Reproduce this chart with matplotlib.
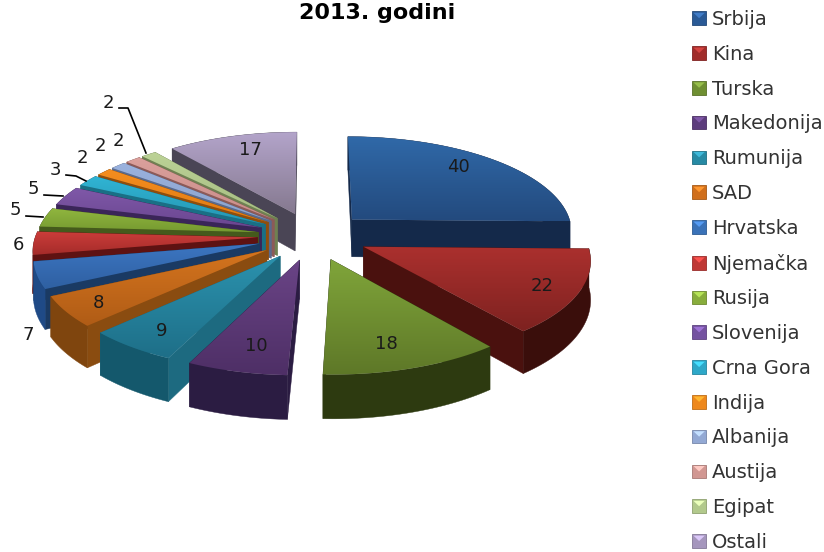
import numpy as np
import matplotlib
matplotlib.use("Agg")
import matplotlib.pyplot as plt
from matplotlib.colors import to_rgb
from matplotlib.legend_handler import HandlerPatch
from matplotlib.patches import Patch, Polygon, Rectangle

# data
countries = ["Srbija", "Kina", "Turska", "Makedonija", "Rumunija", "SAD", "Hrvatska", "Njemačka",
             "Rusija", "Slovenija", "Crna Gora", "Indija", "Albanija", "Austija", "Egipat", "Ostali"]
values = [40, 22, 18, 10, 9, 8, 7, 6, 5, 5, 3, 2, 2, 2, 2, 17]

# colours: top of gradient, bottom of gradient, outer side, cut side
top_light = ["#3069a8", "#ab302e", "#80a53a", "#6a4486", "#2b92ae", "#d4741e", "#3c76c2", "#cc3d3a",
             "#90b63f", "#7f58a8", "#30b4d4", "#f58e1f", "#9ab2de", "#dba09c", "#bcd296", "#b3a4ca"]
top_dark = ["#234a7e", "#7e2220", "#5e7828", "#4e2f66", "#1e6f88", "#b05c16", "#2f60a2", "#a52c2a",
            "#769a30", "#6a4690", "#2596b2", "#e07a12", "#8ba2cc", "#c88c88", "#a6bd82", "#85798f"]
side_colors = ["#14294a", "#3a0e0b", "#2d3a10", "#2b1c42", "#14586c", "#7f450e", "#1f4a86", "#5e1212",
               "#455a1c", "#3a2558", "#1a6f85", "#8f4e0d", "#5a6a8c", "#8c5a58", "#6f8052", "#4a4555"]
cut_colors = ["#14294a", "#4a110e", "#2d3a10", "#2b1c42", "#1d6a80", "#8a4c10", "#1a3a63", "#5e1212",
              "#455a1c", "#3a2558", "#1a6f85", "#8f4e0d", "#5a6a8c", "#8c5a58", "#6f8052", "#4a4555"]
legend_colors = ["#2a5a96", "#a02c2a", "#6f8f32", "#5c3c7c", "#278aa4", "#d06f1c", "#3a72b8", "#bf3835",
                 "#88ad3c", "#7452a0", "#2ea8c8", "#ee881c", "#93a9d4", "#d19792", "#b2c98c", "#a596bd"]

# layout in pixels
W, H = 824, 552
cx, cy = 313, 236
rx, ry = 222, 96
persp = 0.115
explode = 0.25
depth = 38

label_pos = [(458, 167), (542, 286), (386, 344), (256, 346), (162, 331), (98, 303), (28, 335), (18, 245),
             (15, 210), (33, 189), (55, 170), (82, 158), (100, 146), (118, 141), (108, 103), (250, 150)]
leaders = {
    8: [(26, 216), (43, 217)],
    9: [(44, 195), (63, 196)],
    10: [(66, 175), (76, 176), (86, 181)],
    14: [(119, 108), (128, 108), (146, 153)],
}


def project(x, y):
    s = 1 / (1 + persp * y)
    return cx + rx * x * s, cy - ry * y * s, s


def slice_faces(start, end):
    mid = (start + end) / 2
    ox, oy = explode * np.cos(mid), explode * np.sin(mid)
    t = np.linspace(start, end, 60)
    ax_, ay_, s0 = project(ox, oy)
    xs, ys, ss = project(ox + np.cos(t), oy + np.sin(t))
    top = np.column_stack([np.r_[ax_, xs], np.r_[ay_, ys]])
    low = ys + depth * ss
    arc = np.column_stack([np.r_[xs, xs[::-1]], np.r_[ys, low[::-1]]])
    cut1 = [(ax_, ay_), (xs[0], ys[0]), (xs[0], low[0]), (ax_, ay_ + depth * s0)]
    cut2 = [(ax_, ay_), (xs[-1], ys[-1]), (xs[-1], low[-1]), (ax_, ay_ + depth * s0)]
    return top, arc, cut1, cut2


class BevelHandler(HandlerPatch):
    # square legend key with the lighter wedge on top
    def create_artists(self, legend, orig, xd, yd, width, height, fontsize, trans):
        base = to_rgb(orig.get_facecolor())
        light = tuple(min(1, c * 1.25 + 0.05) for c in base)
        dark = tuple(c * 0.8 for c in base)
        rect = Rectangle((-xd, -yd), width, height, fc=base, ec=dark, lw=0.6, transform=trans)
        tri = Polygon([(-xd + 1, height - yd - 1), (width - xd - 1, height - yd - 1),
                       (width / 2 - xd, height / 2 - yd)], fc=light, ec="none", transform=trans)
        return [rect, tri]


fig = plt.figure(figsize=(W / 100, H / 100), dpi=100)
ax = fig.add_axes([0, 0, 1, 1])

total = sum(values)
edges = np.r_[0, np.cumsum(values)] / total * 2 * np.pi
starts = np.pi / 2 - edges[:-1]
ends = np.pi / 2 - edges[1:]
mids = (starts + ends) / 2

# back slices first, so front ones cover them
order = np.argsort(-np.sin(mids))
z = 2
for i in order:
    top, arc, cut1, cut2 = slice_faces(starts[i], ends[i])
    ax.add_patch(Polygon(cut1, fc=cut_colors[i], ec=cut_colors[i], lw=0.3, zorder=z))
    ax.add_patch(Polygon(cut2, fc=cut_colors[i], ec=cut_colors[i], lw=0.3, zorder=z))
    ax.add_patch(Polygon(arc, fc=side_colors[i], ec=side_colors[i], lw=0.3, zorder=z))
    z += 1
    face = Polygon(top, fc="none", ec="none", zorder=z)
    ax.add_patch(face)
    grad = np.linspace(0, 1, 64)[:, None, None]
    rgb = (1 - grad) * np.array(to_rgb(top_light[i])) + grad * np.array(to_rgb(top_dark[i]))
    im = ax.imshow(rgb, extent=(top[:, 0].min(), top[:, 0].max(), top[:, 1].max(), top[:, 1].min()),
                   aspect="auto", interpolation="bilinear", zorder=z)
    im.set_clip_path(face)
    z += 1

for i, (x, y) in enumerate(label_pos):
    ax.text(x, y, str(values[i]), ha="center", va="center", fontsize=13, color="#1a1a1a", zorder=100)

for pts in leaders.values():
    xs, ys = zip(*pts)
    ax.plot(xs, ys, color="black", lw=1.2, zorder=99)

ax.text(377, 13, "2013. godini", ha="center", va="center", fontsize=16, fontweight="bold", color="black")

handles = [Patch(facecolor=c, label=n) for c, n in zip(legend_colors, countries)]
ax.legend(handles=handles, loc="upper left", bbox_to_anchor=(692 / W, 1 - 10 / H), bbox_transform=fig.transFigure,
          frameon=False, fontsize=14, labelcolor="#333333", handlelength=0.73, handleheight=0.7,
          handletextpad=0.3, labelspacing=0.812, borderpad=0, borderaxespad=0,
          handler_map={Patch: BevelHandler()})

ax.set_xlim(0, W)
ax.set_ylim(H, 0)
ax.axis("off")
fig.savefig("out.png", dpi=100)
